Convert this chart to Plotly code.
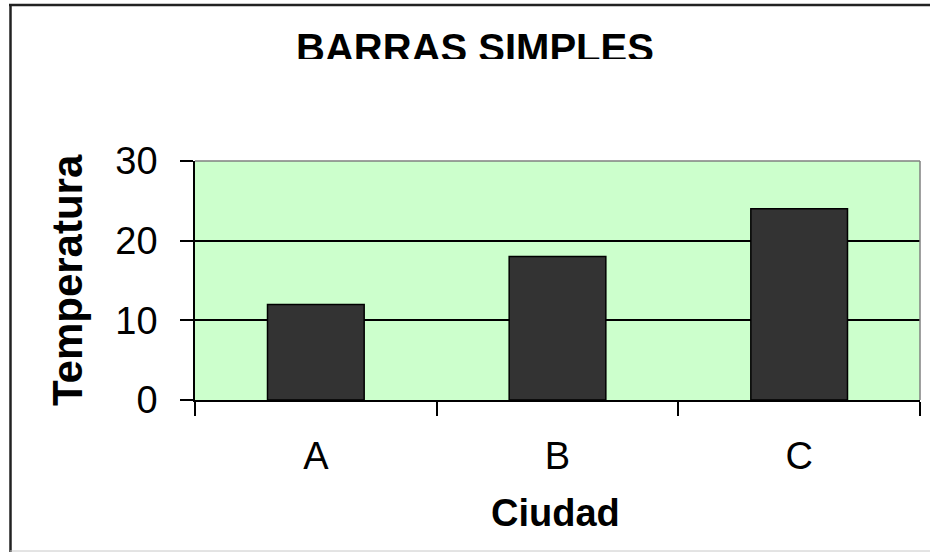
import plotly.graph_objects as go

# ---- data ----
categories = ["A", "B", "C"]
temperaturas = [12, 18, 24]
y_ticks = [0, 10, 20, 30]
chart_title = "BARRAS SIMPLES"
x_title = "Ciudad"
y_title = "Temperatura"

W, H = 930, 552
FONT = "Liberation Sans, Arial, sans-serif"

# plot-area pixel box
PL, PR, PT, PB = 195, 920, 161, 400


def px_x(p):
    return p / W


def px_y(p):
    return (H - p) / H


fig = go.Figure()

fig.add_trace(go.Bar(
    x=categories, y=temperaturas,
    marker=dict(color="#333333", line=dict(color="#000000", width=1.5)),
    hoverinfo="x+y", showlegend=False,
))

# title drawn in a clipped strip (bottom edge cut, as in the original)
TITLE_TOP, TITLE_CLIP = 20, 59
title_cx = 475
title_cy = 52.0
fig.add_trace(go.Scatter(
    x=[title_cx / W], y=[(TITLE_CLIP - title_cy) / (TITLE_CLIP - TITLE_TOP)],
    mode="text", text=[chart_title], textposition="middle center",
    textfont=dict(family=FONT, size=40, color="#000000", weight="bold"),
    cliponaxis=True, hoverinfo="skip", showlegend=False,
    xaxis="x2", yaxis="y2",
))

fig.update_layout(
    width=W, height=H,
    margin=dict(l=0, r=0, t=0, b=0),
    paper_bgcolor="#ffffff", plot_bgcolor="rgba(0,0,0,0)",
    bargap=0.6,
    font=dict(family=FONT, color="#000000"),
    xaxis=dict(
        domain=[px_x(PL), px_x(PR)],
        anchor="y",
        showline=True, linecolor="#000000", linewidth=1.5,
        ticks="outside", ticklen=14, tickcolor="#000000", tickwidth=1.5,
        tickson="boundaries",
        tickfont=dict(family=FONT, size=38, color="#000000"),
        ticklabelstandoff=22,
        showgrid=False, zeroline=False, automargin=False,
    ),
    yaxis=dict(
        domain=[px_y(PB), px_y(PT)],
        anchor="x",
        range=[0, 30], tickvals=y_ticks,
        showline=True, linecolor="#000000", linewidth=1.5,
        ticks="outside", ticklen=13, tickcolor="#000000", tickwidth=1.5,
        tickfont=dict(family=FONT, size=38, color="#000000"),
        ticklabelstandoff=15,
        showgrid=True, gridcolor="#000000", gridwidth=1.5,
        zeroline=False, automargin=False,
    ),
    xaxis2=dict(domain=[0, 1], range=[0, 1], visible=False, anchor="y2", fixedrange=True),
    yaxis2=dict(domain=[px_y(TITLE_CLIP), px_y(TITLE_TOP)], range=[0, 1], visible=False,
                anchor="x2", fixedrange=True),
    annotations=[
        dict(text=y_title, textangle=-90, x=px_x(67), y=px_y(280),
             xref="paper", yref="paper", xanchor="center", yanchor="middle",
             showarrow=False,
             font=dict(family=FONT, size=42, color="#000000", weight="bold")),
        dict(text=x_title, x=px_x(555), y=px_y(513),
             xref="paper", yref="paper", xanchor="center", yanchor="middle",
             showarrow=False,
             font=dict(family=FONT, size=38, color="#000000", weight="bold")),
    ],
    shapes=[
        # plot-area fill
        dict(type="rect", xref="x domain", yref="y domain", x0=0, x1=1, y0=0, y1=1,
             fillcolor="#CCFFCC", line=dict(width=0), layer="below"),
        # plot-area gray border (top, right)
        dict(type="line", xref="x domain", yref="y domain", x0=0, x1=1, y0=1, y1=1,
             line=dict(color="#808080", width=1.5), layer="above"),
        dict(type="line", xref="x domain", yref="y domain", x0=1, x1=1, y0=0, y1=1,
             line=dict(color="#808080", width=1.5), layer="above"),
        # outer chart frame
        dict(type="line", xref="paper", yref="paper", x0=px_x(9), x1=1, y0=px_y(5), y1=px_y(5),
             line=dict(color="#222222", width=2.5), layer="above"),
        dict(type="line", xref="paper", yref="paper", x0=px_x(10.5), x1=px_x(10.5), y0=0, y1=px_y(4),
             line=dict(color="#222222", width=2.5), layer="above"),
        dict(type="line", xref="paper", yref="paper", x0=px_x(10), x1=1, y0=px_y(551), y1=px_y(551),
             line=dict(color="#c8c8c8", width=1), layer="above"),
    ],
)

fig.write_html(
    "out.html",
    config={"displayModeBar": False},
    post_script="document.body.style.margin='0';document.body.style.padding='0';",
)
